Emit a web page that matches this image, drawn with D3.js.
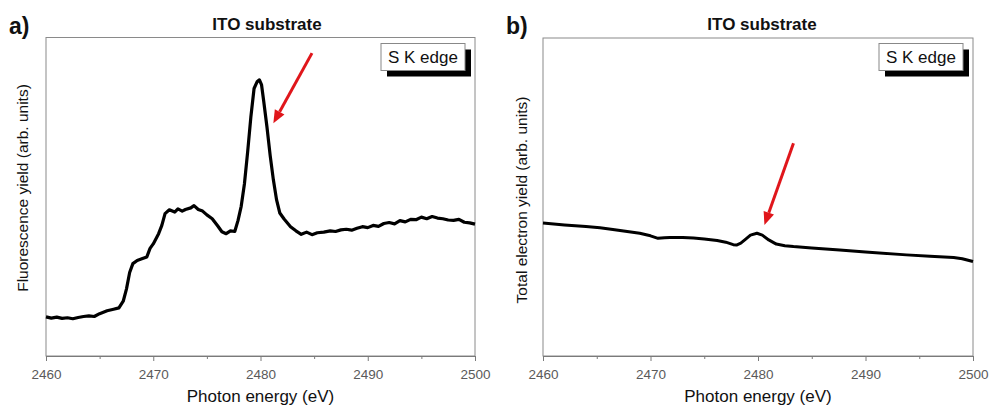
<!DOCTYPE html>
<html>
<head>
<meta charset="utf-8">
<script src="https://cdn.jsdelivr.net/npm/d3@7"></script>
<style>
  body { margin: 0; background: #fff; }
  svg { display: block; font-family: 'Liberation Sans', Arial, sans-serif; }
  .axis path, .axis line { stroke: #7a7a7a; }
  .axis text { fill: #5a5a5a; font-size: 13.5px; font-family: 'Liberation Sans', Arial, sans-serif; }
</style>
</head>
<body>
<div id="chart"></div>
<script>
// panel a: fluorescence yield (arb. units)
const energyA = [
  2460, 2460.5, 2461, 2461.5, 2462, 2462.5, 2463, 2463.5, 2464, 2464.5, 2465, 2465.7, 2466.3, 2466.8,
  2467.2, 2467.5, 2467.8, 2468.1, 2468.5, 2469, 2469.4, 2469.7, 2470, 2470.5, 2470.8, 2471.1, 2471.5,
  2472, 2472.3, 2472.7, 2473, 2473.5, 2473.8, 2474.2, 2474.6, 2475, 2475.5, 2476, 2476.4, 2476.8, 2477.2,
  2477.6, 2477.9, 2478.2, 2478.5, 2478.8, 2479.1, 2479.4, 2479.7, 2479.9, 2480.1, 2480.3, 2480.6, 2480.9,
  2481.2, 2481.5, 2481.8, 2482.2, 2482.8, 2483.3, 2483.8, 2484.3, 2484.8, 2485.3, 2485.9, 2486.5, 2487,
  2487.5, 2488, 2488.5, 2489, 2489.5, 2490, 2490.5, 2491, 2491.5, 2492, 2492.5, 2493, 2493.5, 2494,
  2494.5, 2495, 2495.5, 2496, 2496.5, 2497, 2497.5, 2498, 2498.5, 2499, 2499.5, 2500
]
const fluorescence = [
  0.123, 0.119, 0.122, 0.118, 0.120, 0.117, 0.121, 0.124, 0.126, 0.124, 0.133, 0.142, 0.147, 0.151,
  0.172, 0.210, 0.262, 0.290, 0.300, 0.306, 0.311, 0.338, 0.352, 0.384, 0.410, 0.447, 0.459,
  0.452, 0.462, 0.455, 0.460, 0.465, 0.472, 0.460, 0.455, 0.443, 0.431, 0.409, 0.390, 0.384, 0.393,
  0.391, 0.425, 0.470, 0.540, 0.640, 0.750, 0.840, 0.862, 0.867, 0.851, 0.800, 0.720, 0.630,
  0.553, 0.490, 0.449, 0.430, 0.406, 0.393, 0.382, 0.389, 0.381, 0.387, 0.389, 0.393, 0.391,
  0.396, 0.398, 0.395, 0.401, 0.406, 0.403, 0.410, 0.407, 0.416, 0.419, 0.415, 0.425, 0.421, 0.429,
  0.428, 0.436, 0.431, 0.438, 0.433, 0.431, 0.427, 0.426, 0.429, 0.420, 0.418, 0.414
]

// panel b: total electron yield (arb. units)
const energyB = [
  2460, 2462, 2464, 2465.3, 2466.5, 2467.5, 2469, 2470, 2470.7, 2471.3, 2471.8, 2473, 2474, 2475,
  2476.2, 2477, 2477.7, 2478, 2478.4, 2478.8, 2479.3, 2479.9, 2480.4, 2481, 2481.7, 2482.5, 2483.3,
  2485, 2487.6, 2490, 2493.8, 2496, 2498.2, 2499, 2500
]
const electronYield = [
  0.418, 0.412, 0.407, 0.403, 0.398, 0.393, 0.386, 0.378, 0.370, 0.372, 0.373, 0.373, 0.371, 0.368,
  0.363, 0.358, 0.350, 0.349, 0.355, 0.366, 0.380, 0.386, 0.380, 0.365, 0.352, 0.347, 0.344,
  0.340, 0.333, 0.327, 0.318, 0.314, 0.310, 0.306, 0.297
]

const xTicks = [2460, 2470, 2480, 2490, 2500]
const xMinorTicks = [2465, 2475, 2485, 2495]

// arrows: [from energy, from value, to energy, to value]
const arrowA = [2484.8, 0.951, 2481.2, 0.731]
const arrowB = [2483.3, 0.669, 2480.6, 0.412]

const panels = [
  { tag: 'a)', title: 'ITO substrate', yLabel: 'Fluorescence yield (arb. units)', energy: energyA, values: fluorescence, arrow: arrowA,
    left: 46, right: 475, top: 37.5, bottom: 356, tagX: 9, titleX: 267, yLabelX: 28, yLabelY: 188, lineW: 3.2 },
  { tag: 'b)', title: 'ITO substrate', yLabel: 'Total electron yield (arb. units)', energy: energyB, values: electronYield, arrow: arrowB,
    left: 543, right: 973, top: 38, bottom: 356, tagX: 506, titleX: 762, yLabelX: 527, yLabelY: 200, lineW: 3 }
]

const width = 990
const height = 407

const svg = d3.select('#chart').append('svg').attr('width', width).attr('height', height)

function drawPanel(p) {
  const g = svg.append('g')
  const x = d3.scaleLinear().domain([2460, 2500]).range([p.left, p.right])
  const y = d3.scaleLinear().domain([0, 1]).range([p.bottom, p.top])

  // frame
  g.append('rect')
    .attr('x', p.left).attr('y', p.top)
    .attr('width', p.right - p.left).attr('height', p.bottom - p.top)
    .attr('fill', 'none').attr('stroke', '#8a8a8a').attr('stroke-width', 1)

  // minor ticks
  g.append('g').attr('class', 'axis')
    .attr('transform', `translate(0,${p.bottom})`)
    .call(d3.axisBottom(x).tickValues(xMinorTicks).tickSize(3).tickFormat(''))
    .call((a) => a.select('.domain').remove())

  g.append('g').attr('class', 'axis')
    .attr('transform', `translate(0,${p.bottom})`)
    .call(d3.axisBottom(x).tickValues(xTicks).tickSize(5).tickSizeOuter(0).tickPadding(8).tickFormat(d3.format('d')))

  g.append('text')
    .attr('x', (p.left + p.right) / 2).attr('y', 402)
    .attr('text-anchor', 'middle').attr('font-size', 17).attr('fill', '#111')
    .text('Photon energy (eV)')

  g.append('text')
    .attr('transform', `translate(${p.yLabelX},${p.yLabelY}) rotate(-90)`)
    .attr('text-anchor', 'middle').attr('font-size', 15.5).attr('fill', '#111')
    .text(p.yLabel)

  g.append('text')
    .attr('x', p.titleX).attr('y', 30)
    .attr('text-anchor', 'middle').attr('font-size', 17).attr('font-weight', 'bold').attr('fill', '#111')
    .text(p.title)

  g.append('text')
    .attr('x', p.tagX).attr('y', 34)
    .attr('font-size', 23).attr('font-weight', 'bold').attr('fill', '#111')
    .text(p.tag)

  // legend box with shadow
  const bw = 84, bh = 27
  const bx = p.right - 10 - bw, by = 43.5
  g.append('rect').attr('x', bx + 6).attr('y', by + 6).attr('width', bw).attr('height', bh).attr('fill', '#000')
  g.append('rect').attr('x', bx).attr('y', by).attr('width', bw).attr('height', bh)
    .attr('fill', '#fff').attr('stroke', '#888').attr('stroke-width', 1)
  g.append('text').attr('x', bx + 7).attr('y', by + 19.5).attr('font-size', 17).attr('fill', '#111').text('S K edge')

  // spectrum
  const pts = p.energy.map((e, i) => [e, p.values[i]])
  const line = d3.line().x((d) => x(d[0])).y((d) => y(d[1]))
  g.append('path').datum(pts)
    .attr('d', line)
    .attr('fill', 'none').attr('stroke', '#000')
    .attr('stroke-width', p.lineW).attr('stroke-linejoin', 'round')

  // red arrow
  const [e0, v0, e1, v1] = p.arrow
  const x0 = x(e0), y0 = y(v0), x1 = x(e1), y1 = y(v1)
  const ang = Math.atan2(y1 - y0, x1 - x0)
  const headL = 13, headW = 5.5
  const bxh = x1 - headL * Math.cos(ang), byh = y1 - headL * Math.sin(ang)
  g.append('line')
    .attr('x1', x0).attr('y1', y0).attr('x2', bxh).attr('y2', byh)
    .attr('stroke', '#e0161b').attr('stroke-width', 3)
  const nx = -Math.sin(ang), ny = Math.cos(ang)
  g.append('path')
    .attr('d', `M${x1},${y1}L${bxh + nx * headW},${byh + ny * headW}L${bxh - nx * headW},${byh - ny * headW}Z`)
    .attr('fill', '#e0161b')
}

panels.forEach(drawPanel)
</script>
</body>
</html>
